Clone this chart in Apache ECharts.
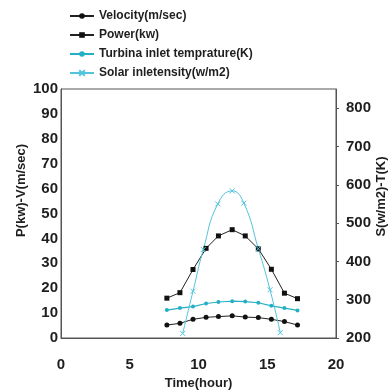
<!DOCTYPE html>
<html>
<head>
<meta charset="utf-8">
<script src="https://cdn.jsdelivr.net/npm/echarts@6/dist/echarts.min.js"></script>
<style>
html,body{margin:0;padding:0;background:#fff;}
#chart{width:391px;height:392px;}
</style>
</head>
<body>
<div id="chart"></div>
<script>
// Time (hour) of the measured points
var hours = [7.7, 8.65, 9.6, 10.55, 11.45, 12.45, 13.4, 14.35, 15.3, 16.25, 17.2];
// Left axis series
var velocity = [5.2, 5.9, 7.5, 8.3, 8.6, 8.9, 8.4, 8.2, 7.5, 6.6, 5.2];
var power = [16.0, 18.2, 27.5, 36.0, 41.0, 43.5, 41.0, 35.8, 27.6, 18.0, 15.8];
// Right axis series
var turbineTemp = [273, 278, 282, 290, 294, 296, 295, 292, 284, 278, 272];
var solarHours = [8.85, 9.6, 10.35, 11.4, 12.45, 13.3, 14.35, 15.2, 15.95];
var solar = [212, 322, 431, 550, 584, 552, 433, 326, 214];

var xTicks = [0, 5, 10, 15, 20];
var leftTicks = [0, 100];
var rightTicks = [200, 850];

function pairs(xs, ys) { return xs.map(function (x, i) { return [x, ys[i]]; }); }

var font = 'Liberation Sans, Arial, sans-serif';
var txt = '#1e1e1e';
var cyanDark = '#25afc4';
var cyanLight = '#52c4dc';

var chart = echarts.init(document.getElementById('chart'), null, {renderer: 'canvas'});
chart.setOption({
  animation: false,
  backgroundColor: '#fff',
  grid: {left: 61, right: 55, top: 89, bottom: 54, show: true, borderColor: '#555', borderWidth: 1,
         containLabel: false, outerBoundsMode: 'none'},
  legend: {
    orient: 'vertical', left: 64, top: 5, itemWidth: 24, itemHeight: 7, itemGap: 7,
    textStyle: {fontFamily: font, fontSize: 12, fontWeight: 'bold', color: txt},
    data: ['Velocity(m/sec)', 'Power(kw)', 'Turbina inlet temprature(K)', 'Solar inletensity(w/m2)']
  },
  xAxis: {
    type: 'value', min: xTicks[0], max: xTicks[xTicks.length - 1], interval: 5,
    name: 'Time(hour)', nameLocation: 'middle', nameGap: 38,
    nameTextStyle: {fontFamily: font, fontSize: 13, fontWeight: 'bold', color: txt},
    axisLine: {lineStyle: {color: '#555'}}, axisTick: {show: false}, splitLine: {show: false},
    axisLabel: {margin: 19, fontFamily: font, fontSize: 15, fontWeight: 'bold', color: txt}
  },
  yAxis: [{
    type: 'value', min: leftTicks[0], max: leftTicks[1], interval: 10, position: 'left',
    name: 'P(kw)-V(m/sec)', nameLocation: 'middle', nameGap: 33, nameRotate: 90, nameMoveOverlap: false,
    nameTextStyle: {fontFamily: font, fontSize: 13, fontWeight: 'bold', color: txt, padding: [0, 0, 0, 46]},
    axisLine: {show: true, lineStyle: {color: '#555'}}, axisTick: {show: false}, splitLine: {show: false},
    axisLabel: {margin: 3, fontFamily: font, fontSize: 15, fontWeight: 'bold', color: txt}
  }, {
    type: 'value', min: rightTicks[0], max: rightTicks[1], interval: 100, position: 'right',
    name: 'S(w/m2)-T(K)', nameLocation: 'middle', nameGap: 39, nameRotate: 90, nameMoveOverlap: false,
    nameTextStyle: {fontFamily: font, fontSize: 13, fontWeight: 'bold', color: txt, padding: [0, 0, 0, 34]},
    axisLine: {show: true, lineStyle: {color: '#555'}}, axisTick: {show: true, length: 3, lineStyle: {color: '#555'}},
    splitLine: {show: false},
    axisLabel: {margin: 10, showMaxLabel: false, fontFamily: font, fontSize: 15, fontWeight: 'bold', color: txt}
  }],
  series: [{
    name: 'Velocity(m/sec)', type: 'line', yAxisIndex: 0, data: pairs(hours, velocity),
    symbol: 'circle', symbolSize: 5, lineStyle: {color: '#222', width: 1}, itemStyle: {color: '#111'}
  }, {
    name: 'Power(kw)', type: 'line', yAxisIndex: 0, data: pairs(hours, power),
    symbol: 'rect', symbolSize: 5, lineStyle: {color: '#222', width: 1}, itemStyle: {color: '#111'}
  }, {
    name: 'Turbina inlet temprature(K)', type: 'line', yAxisIndex: 1, data: pairs(hours, turbineTemp),
    symbol: 'circle', symbolSize: 4, lineStyle: {color: cyanDark, width: 1.2}, itemStyle: {color: cyanDark}
  }, {
    name: 'Solar inletensity(w/m2)', type: 'line', yAxisIndex: 1, data: pairs(solarHours, solar), smooth: true,
    symbol: 'path://M0,0L10,10M0,10L10,0', symbolSize: 5,
    lineStyle: {color: cyanLight, width: 1}, itemStyle: {color: 'none', borderColor: cyanLight, borderWidth: 1}
  }]
});
</script>
</body>
</html>
